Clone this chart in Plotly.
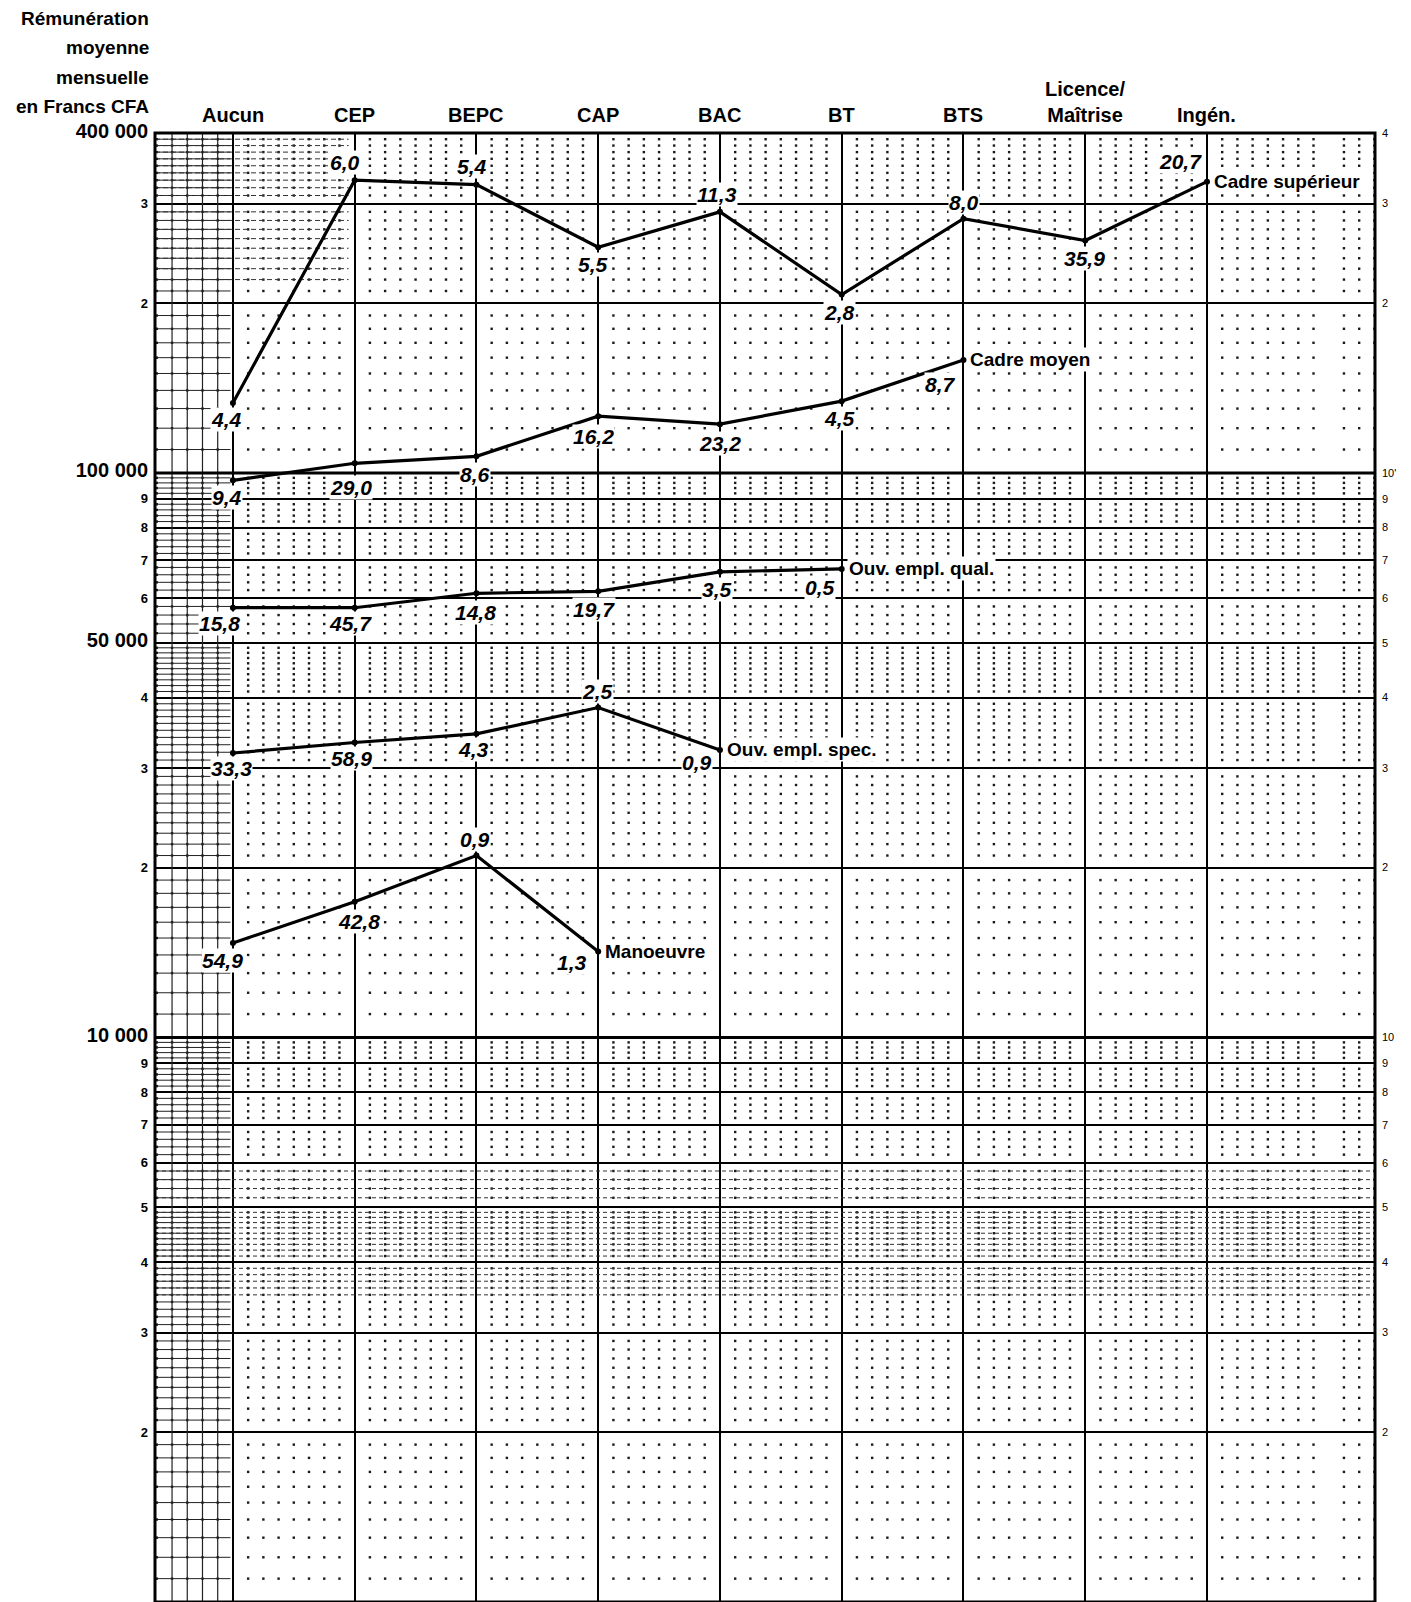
import numpy as np
import plotly.graph_objects as go

# ---------------------------------------------------------------- data
categories = ["Aucun", "CEP", "BEPC", "CAP", "BAC", "BT", "BTS",
              "Licence/<br>Maîtrise", "Ingén."]

cadre_sup = [133000, 330000, 324000, 251000, 290000, 207000, 282000, 258000, 328000]
cadre_sup_pct = ["4,4", "6,0", "5,4", "5,5", "11,3", "2,8", "8,0", "35,9", "20,7"]

cadre_moy = [97000, 104000, 107000, 126000, 122000, 134000, 158500]
cadre_moy_pct = ["9,4", "29,0", "8,6", "16,2", "23,2", "4,5", "8,7"]

ouv_qual = [57700, 57700, 61200, 61700, 66800, 67600]
ouv_qual_pct = ["15,8", "45,7", "14,8", "19,7", "3,5", "0,5"]

ouv_spec = [31900, 33300, 34500, 38400, 32300]
ouv_spec_pct = ["33,3", "58,9", "4,3", "2,5", "0,9"]

manoeuvre = [14700, 17400, 21000, 14200]
manoeuvre_pct = ["54,9", "42,8", "0,9", "1,3"]

series_names = ["Cadre supérieur", "Cadre moyen", "Ouv. empl. qual.",
                "Ouv. empl. spec.", "Manoeuvre"]

# label placement (pixel offsets of each value label from its point: dx, dy-down)
label_offsets = [
    [(-6, 17), (-10, -18), (-4, -18), (-5, 17), (-3, -17), (-2, 18), (1, -16), (-1, 18), (-26, -20)],
    [(-6, 17), (-4, 24), (-1, 18), (-5, 20), (0, 19), (-2, 17), (-23, 25)],
    [(-13, 16), (-4, 16), (-1, 19), (-4, 18), (-3, 18), (-22, 19)],
    [(-1, 15), (-3, 16), (-3, 16), (-1, -16), (-23, 13)],
    [(-10, 18), (4, 20), (-1, -16), (-26, 11)],
]

# ---------------------------------------------------------------- axes geometry
X_MIN, X_MAX = -0.64, 9.38
Y_MIN, Y_MAX = 1000, 400000
FONT = "Liberation Sans, Arial, sans-serif"

major_vals = [m * 10 ** d for d in (3, 4, 5) for m in range(1, 10) if m * 10 ** d <= Y_MAX]


def minor_mantissas():
    m = []
    m += [1 + 0.1 * i for i in range(1, 10)]
    m += [2 + 0.1 * i for i in range(1, 10)]
    m += [3 + 0.1 * i for i in range(1, 10)]
    m += [4 + 0.1 * i for i in range(1, 10)]
    for base in (5, 6, 7, 8, 9):
        m += [base + 0.2 * i for i in range(1, 5)]
    return m


minor_rows = [mm * 10 ** d for d in (3, 4, 5) for mm in minor_mantissas() if mm * 10 ** d < Y_MAX]
minor_cols = [k / 8 for k in range(-5, 76) if k % 8 != 0 and X_MIN < k / 8 < X_MAX]

fig = go.Figure()

# graph-paper dots at the minor intersections
gx, gy = np.meshgrid(minor_cols, minor_rows)
fig.add_trace(go.Scatter(
    x=gx.ravel(), y=gy.ravel(), mode="markers",
    marker=dict(symbol="square", size=2.4, color="#1a1a1a", line=dict(width=0)),
    hoverinfo="skip", showlegend=False))


# ruled margin strip on the left of the paper
def segments(rows, x0, x1):
    xs, ys = [], []
    for r in rows:
        xs += [x0, x1, None]
        ys += [r, r, None]
    return xs, ys


sx, sy = segments(minor_rows, X_MIN, -0.02)
fig.add_trace(go.Scatter(x=sx, y=sy, mode="lines", line=dict(color="#222", width=1),
                         hoverinfo="skip", showlegend=False))
vx, vy = [], []
for c in [k / 8 for k in range(-4, 0)]:
    vx += [c, c, None]
    vy += [Y_MIN, Y_MAX, None]
fig.add_trace(go.Scatter(x=vx, y=vy, mode="lines", line=dict(color="#222", width=1.2),
                         hoverinfo="skip", showlegend=False))

# darker printed bands of the paper
top_rows = [r for r in minor_rows if 220000 <= r < Y_MAX]
tx, ty = segments(top_rows, X_MIN, 0.95)
fig.add_trace(go.Scatter(x=tx, y=ty, mode="lines",
                         line=dict(color="#333", width=1, dash="5px,3px"),
                         hoverinfo="skip", showlegend=False))
band_rows = [r for r in minor_rows if 3500 <= r < 6000]
bx, by = segments(band_rows, X_MIN, X_MAX)
fig.add_trace(go.Scatter(x=bx, y=by, mode="lines",
                         line=dict(color="#333", width=1, dash="4px,3px"),
                         hoverinfo="skip", showlegend=False))

# heavier decade lines
for v in (10000, 100000):
    fig.add_trace(go.Scatter(x=[X_MIN, X_MAX], y=[v, v], mode="lines",
                             line=dict(color="black", width=3),
                             hoverinfo="skip", showlegend=False))

# ---------------------------------------------------------------- series
all_series = [cadre_sup, cadre_moy, ouv_qual, ouv_spec, manoeuvre]
all_pcts = [cadre_sup_pct, cadre_moy_pct, ouv_qual_pct, ouv_spec_pct, manoeuvre_pct]

annotations = []
for name, vals, pcts, offs in zip(series_names, all_series, all_pcts, label_offsets):
    xs = list(range(len(vals)))
    fig.add_trace(go.Scatter(
        x=xs, y=vals, mode="lines+markers", name=name,
        line=dict(color="black", width=3.2),
        marker=dict(size=6, color="black"),
        hoverinfo="skip", showlegend=False))
    for xi, v, p, (dx, dy) in zip(xs, vals, pcts, offs):
        annotations.append(dict(
            x=xi, y=np.log10(v), xref="x", yref="y", text=f"<b><i>{p}</i></b>",
            showarrow=False, xanchor="center", yanchor="middle",
            xshift=dx, yshift=-dy, bgcolor="white", borderpad=0,
            font=dict(family=FONT, size=21, color="black")))
    annotations.append(dict(
        x=xs[-1], y=np.log10(vals[-1]), xref="x", yref="y", text=f"<b>{name}</b>",
        showarrow=False, xanchor="left", yanchor="middle", xshift=5, yshift=0,
        bgcolor="white", borderpad=1,
        font=dict(family=FONT, size=19, color="black")))

# category headers
for i, c in enumerate(categories):
    annotations.append(dict(
        x=i, y=1, xref="x", yref="paper", text=f"<b>{c}</b>", showarrow=False,
        xanchor="center", yanchor="bottom", yshift=5, align="center",
        font=dict(family=FONT, size=20, color="black")))

# y axis title, right aligned above the scale
title_lines = ["Rémunération", "moyenne", "mensuelle", "en Francs CFA"]
title_centers = [18, 47, 77, 106]
for t, yc in zip(title_lines, title_centers):
    annotations.append(dict(
        x=0, y=1, xref="paper", yref="paper", text=f"<b>{t}</b>", showarrow=False,
        xanchor="right", yanchor="middle", xshift=-4, yshift=133 - yc,
        font=dict(family=FONT, size=19, color="black")))

# dummy trace so the right-hand scale is drawn
fig.add_trace(go.Scatter(x=[None], y=[None], yaxis="y2", showlegend=False, hoverinfo="skip"))

big = {400000: "400 000", 100000: "100 000", 50000: "50 000", 10000: "10 000"}
left_text = []
for v in major_vals:
    if v in big:
        left_text.append(f"<span style='font-size:20px'><b>{big[v]}</b></span>")
    else:
        left_text.append(f"<b>{int(round(v / 10 ** int(np.floor(np.log10(v)))))}</b>")

right_special = {100000: "10'", 10000: "10", 1000: "1"}
right_text = [right_special.get(v, str(int(round(v / 10 ** int(np.floor(np.log10(v)))))))
              for v in major_vals]

fig.update_layout(
    width=1411, height=1602,
    margin=dict(l=155, r=36, t=133, b=0),
    paper_bgcolor="white", plot_bgcolor="white",
    hovermode=False,
    xaxis=dict(range=[X_MIN, X_MAX], tickvals=list(range(len(categories))),
               showticklabels=False, ticks="", showgrid=True, gridcolor="black",
               gridwidth=2, zeroline=False, showline=False, fixedrange=True),
    yaxis=dict(type="log", range=[np.log10(Y_MIN), np.log10(Y_MAX)],
               tickvals=major_vals, ticktext=left_text, ticks="",
               ticklabelstandoff=6, showgrid=True, gridcolor="black", gridwidth=1.8,
               zeroline=False, showline=False, fixedrange=True,
               tickfont=dict(family=FONT, size=13, color="black")),
    yaxis2=dict(type="log", range=[np.log10(Y_MIN), np.log10(Y_MAX)],
                overlaying="y", side="right", tickvals=major_vals, ticktext=right_text,
                ticks="", ticklabelstandoff=6, showgrid=False, zeroline=False,
                showline=False, fixedrange=True,
                tickfont=dict(family=FONT, size=11, color="black")),
    annotations=annotations,
    shapes=[dict(type="rect", xref="paper", yref="paper", x0=0, x1=1, y0=0, y1=1,
                 line=dict(color="black", width=3), layer="above")],
)

fig.write_html("out.html")
